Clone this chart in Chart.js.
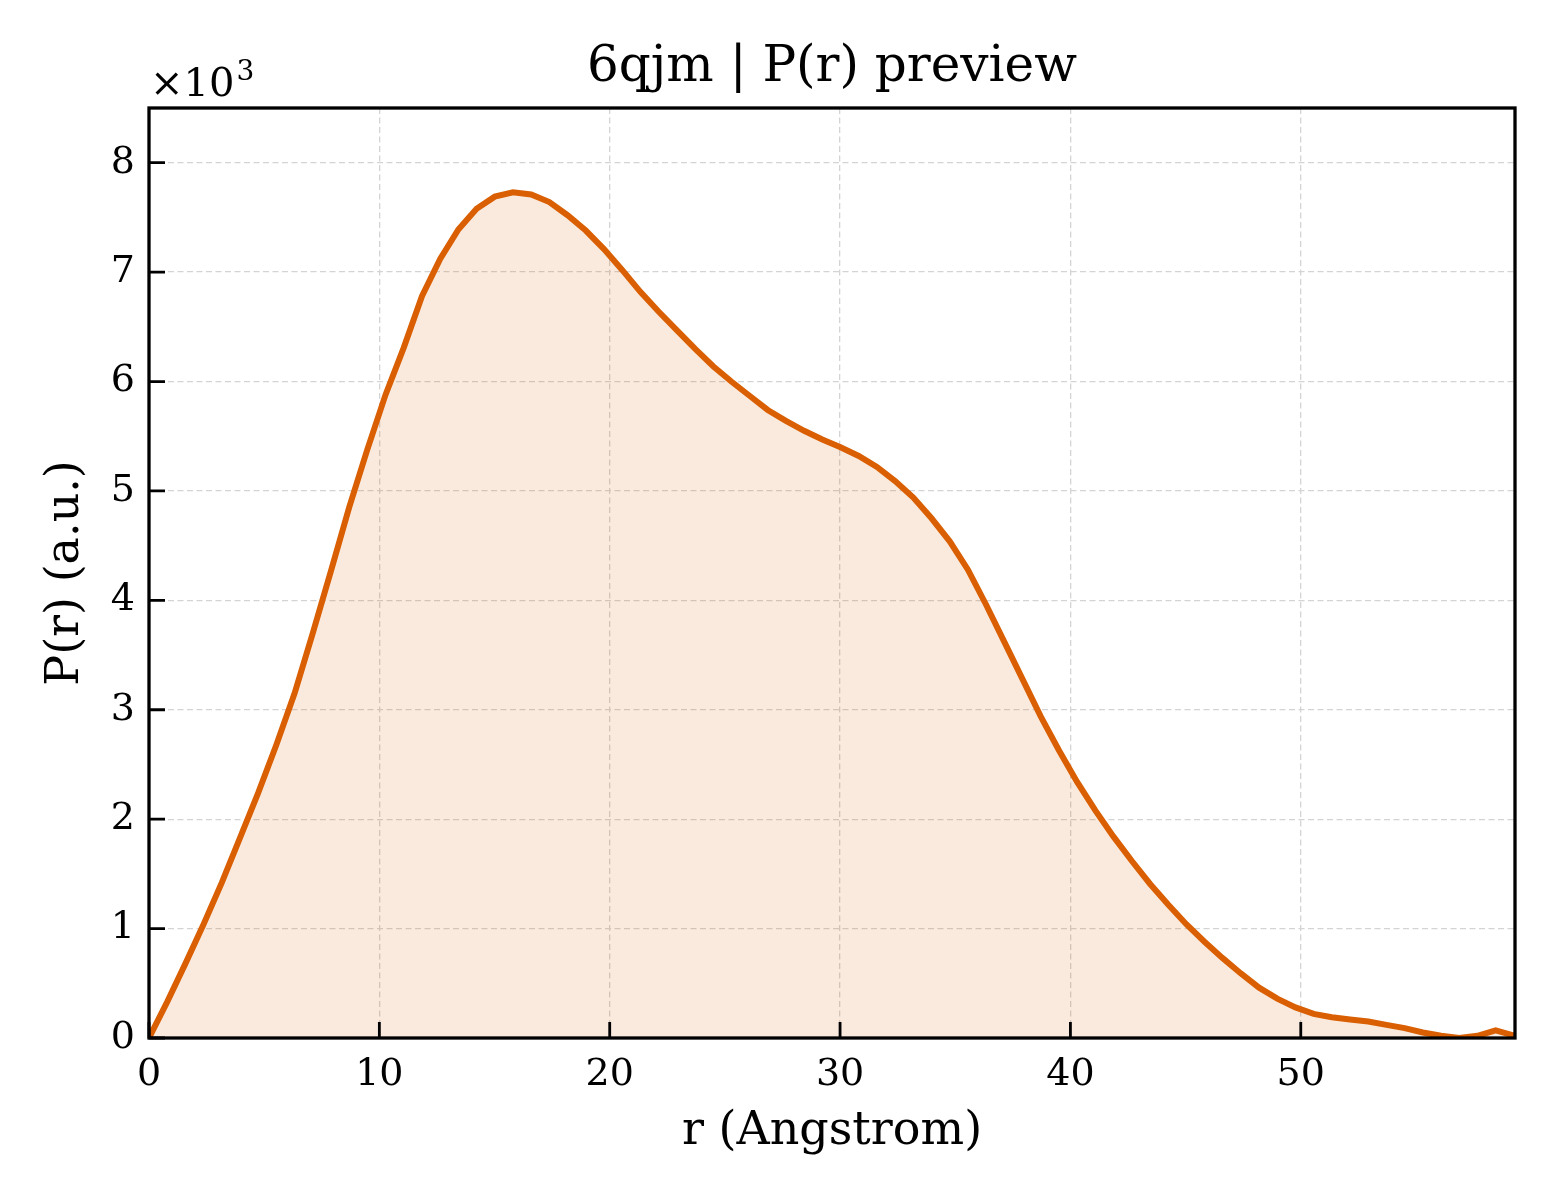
<!DOCTYPE html>
<html>
<head>
<meta charset="utf-8">
<title>6qjm | P(r) preview</title>
<script src="https://cdn.jsdelivr.net/npm/chart.js@4.4.1/dist/chart.umd.min.js"></script>
<style>
  html, body { margin: 0; padding: 0; background: #fff; }
  canvas { display: block; }
</style>
</head>
<body>
<canvas id="prChart" width="1560" height="1200"></canvas>
<script>
const rValues = [
    0, 0.79, 1.58, 2.37, 3.16, 3.95, 4.74, 5.53, 6.32, 7.11,
    7.9, 8.69, 9.48, 10.27, 11.06, 11.85, 12.64, 13.43, 14.22, 15.01,
    15.8, 16.59, 17.38, 18.17, 18.96, 19.75, 20.54, 21.33, 22.12, 22.91,
    23.7, 24.49, 25.28, 26.07, 26.86, 27.65, 28.44, 29.23, 30.02, 30.81,
    31.6, 32.39, 33.18, 33.97, 34.76, 35.55, 36.34, 37.13, 37.92, 38.71,
    39.5, 40.29, 41.08, 41.87, 42.66, 43.45, 44.24, 45.03, 45.82, 46.61,
    47.4, 48.19, 48.98, 49.77, 50.56, 51.35, 52.14, 52.93, 53.72, 54.51,
    55.3, 56.09, 56.88, 57.67, 58.46, 59.3
];
const pValues = [
    0, 0.33, 0.68, 1.04, 1.42, 1.83, 2.24, 2.68, 3.15, 3.70,
    4.27, 4.85, 5.38, 5.88, 6.31, 6.78, 7.12, 7.39, 7.58, 7.69,
    7.73, 7.71, 7.64, 7.52, 7.38, 7.21, 7.02, 6.82, 6.64, 6.47,
    6.30, 6.14, 6.00, 5.87, 5.74, 5.64, 5.55, 5.47, 5.40, 5.32,
    5.22, 5.09, 4.94, 4.75, 4.54, 4.28, 3.96, 3.62, 3.28, 2.94,
    2.63, 2.34, 2.08, 1.84, 1.62, 1.41, 1.22, 1.04, 0.88, 0.73,
    0.59, 0.46, 0.36, 0.28, 0.22, 0.19, 0.17, 0.15, 0.12, 0.09,
    0.05, 0.02, 0.00, 0.02, 0.07, 0.02
];
const xTicks = [0, 10, 20, 30, 40, 50];
const yTicks = [0, 1, 2, 3, 4, 5, 6, 7, 8];

const lineColor = "#d95f02";
const serif = "'DejaVu Serif', serif";

Chart.defaults.font.family = serif;
Chart.defaults.color = "#000";

// matplotlib-ish frame, inward ticks and the x10^3 offset text
const frameAndTicks = {
    id: "frameAndTicks",
    afterDraw(chart) {
        const { ctx, chartArea: a, scales } = chart;
        ctx.save();
        ctx.strokeStyle = "#000";
        ctx.lineWidth = 2.8;
        ctx.beginPath();
        scales.x.ticks.forEach(t => {
            const px = scales.x.getPixelForValue(t.value);
            ctx.moveTo(px, a.bottom);
            ctx.lineTo(px, a.bottom - 16);
        });
        scales.y.ticks.forEach(t => {
            const py = scales.y.getPixelForValue(t.value);
            ctx.moveTo(a.left, py);
            ctx.lineTo(a.left + 16, py);
        });
        ctx.stroke();
        ctx.lineWidth = 3.3;
        ctx.strokeRect(a.left, a.top, a.right - a.left, a.bottom - a.top);
        ctx.fillStyle = "#000";
        ctx.textBaseline = "alphabetic";
        ctx.font = "40px " + serif;
        const base = "\u00d710";
        ctx.fillText(base, a.left + 1, a.top - 12);
        const w = ctx.measureText(base).width;
        ctx.font = "28px " + serif;
        ctx.fillText("3", a.left + 3 + w, a.top - 28);
        ctx.restore();
    }
};

const gridOpts = { color: "#d4d4d4", lineWidth: 1.3, drawTicks: false };
const borderOpts = { display: false, dash: [6, 3.5] };

new Chart(document.getElementById("prChart"), {
    type: "line",
    data: {
        datasets: [{
            data: rValues.map((r, i) => ({ x: r, y: pValues[i] })),
            borderColor: lineColor,
            backgroundColor: "rgba(217, 95, 2, 0.13)",
            borderWidth: 6,
            fill: "origin",
            pointRadius: 0,
            tension: 0
        }]
    },
    options: {
        responsive: false,
        animation: false,
        devicePixelRatio: 1,
        layout: { padding: { left: 0, right: 45, top: 0, bottom: 0 } },
        plugins: {
            legend: { display: false },
            tooltip: { enabled: false },
            title: {
                display: true,
                fullSize: false,
                text: "6qjm | P(r) preview",
                color: "#000",
                font: { size: 50, weight: "normal" },
                padding: { top: 38, bottom: 10 }
            }
        },
        scales: {
            x: {
                type: "linear",
                min: 0,
                max: 59.3,
                afterFit: s => { s.height = 162; },
                afterBuildTicks: s => { s.ticks = xTicks.map(v => ({ value: v })); },
                ticks: { font: { size: 38 }, padding: 14, maxRotation: 0 },
                grid: gridOpts,
                border: borderOpts,
                title: {
                    display: true,
                    text: "r (Angstrom)",
                    font: { size: 46 },
                    padding: { top: 0, bottom: 40 }
                }
            },
            y: {
                min: 0,
                max: 8.5,
                afterFit: s => { s.width = 149; },
                afterBuildTicks: s => { s.ticks = yTicks.map(v => ({ value: v })); },
                ticks: { font: { size: 38 }, padding: 14 },
                grid: gridOpts,
                border: borderOpts,
                title: {
                    display: true,
                    text: "P(r) (a.u.)",
                    font: { size: 46 },
                    padding: { top: 38, bottom: 0 }
                }
            }
        }
    },
    plugins: [frameAndTicks]
});
</script>
</body>
</html>
